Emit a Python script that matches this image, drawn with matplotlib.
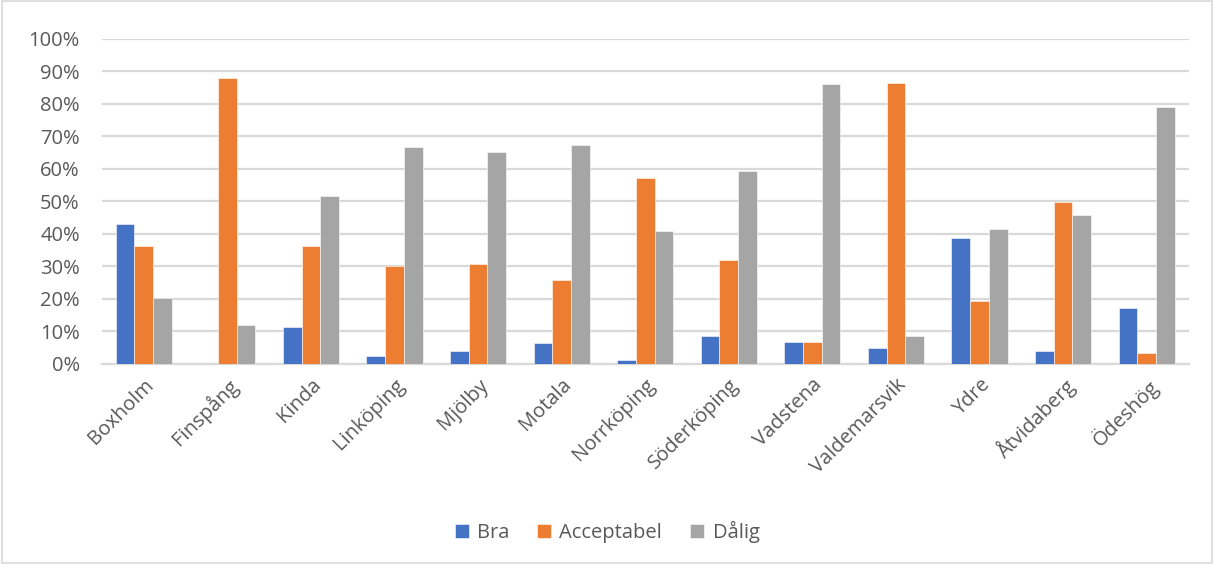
import numpy as np
import matplotlib.pyplot as plt
from matplotlib.patches import Rectangle

kommuner = ["Boxholm", "Finspång", "Kinda", "Linköping", "Mjölby", "Motala",
            "Norrköping", "Söderköping", "Vadstena", "Valdemarsvik", "Ydre",
            "Åtvidaberg", "Ödeshög"]
bra = [43.0, 0.0, 11.4, 2.4, 3.8, 6.5, 1.2, 8.5, 6.8, 4.8, 38.7, 4.0, 17.1]
acceptabel = [36.2, 87.9, 36.4, 30.2, 30.6, 25.9, 57.3, 31.8, 6.8, 86.4, 19.2, 49.9, 3.4]
dalig = [20.3, 11.9, 51.8, 66.8, 65.1, 67.2, 40.9, 59.2, 86.2, 8.4, 41.5, 45.7, 79.1]

series = [("Bra", bra, "#4472C4"),
          ("Acceptabel", acceptabel, "#ED7D31"),
          ("Dålig", dalig, "#A5A5A5")]

plt.rcParams['font.family'] = ['Open Sans', 'DejaVu Sans']
txt = "#595959"
fs = 14.5

fig = plt.figure(figsize=(12.14, 5.64), dpi=100)
ax = fig.add_axes([0.084, 0.355, 0.895, 0.576])

x = np.arange(len(kommuner))
w = 0.224
for i, (name, vals, col) in enumerate(series):
    ax.bar(x + (i - 1) * w, vals, w, color=col, label=name,
           edgecolor="white", linewidth=0.4, zorder=3)

ax.set_xlim(-0.5, len(kommuner) - 0.5)
ax.set_ylim(0, 100)
ax.set_yticks(range(0, 101, 10))
ax.set_yticklabels([f"{v}%" for v in range(0, 101, 10)], fontsize=fs, color=txt)
ax.set_xticks(x)
ax.set_xticklabels(kommuner, rotation=45, ha="right", rotation_mode="anchor",
                   fontsize=fs, color=txt)
ax.tick_params(axis="y", length=0, pad=16)
ax.tick_params(axis="x", length=0, pad=8)
ax.grid(axis="y", color="#D9D9D9", linewidth=1.6, zorder=0)
for s in ["top", "right", "left"]:
    ax.spines[s].set_visible(False)
ax.spines["bottom"].set_color("#D9D9D9")
ax.spines["bottom"].set_linewidth(1.6)

fig.legend(loc="center", bbox_to_anchor=(0.5, 0.056), ncol=3, frameon=False,
           fontsize=fs, labelcolor=txt, handlelength=0.7, handleheight=0.7,
           columnspacing=1.4, handletextpad=0.4)

fig.patches.append(Rectangle((0.002, 0.002), 0.996, 0.996, transform=fig.transFigure,
                             fill=False, edgecolor="#D9D9D9", linewidth=1.2))

fig.savefig("out.png", dpi=100)
